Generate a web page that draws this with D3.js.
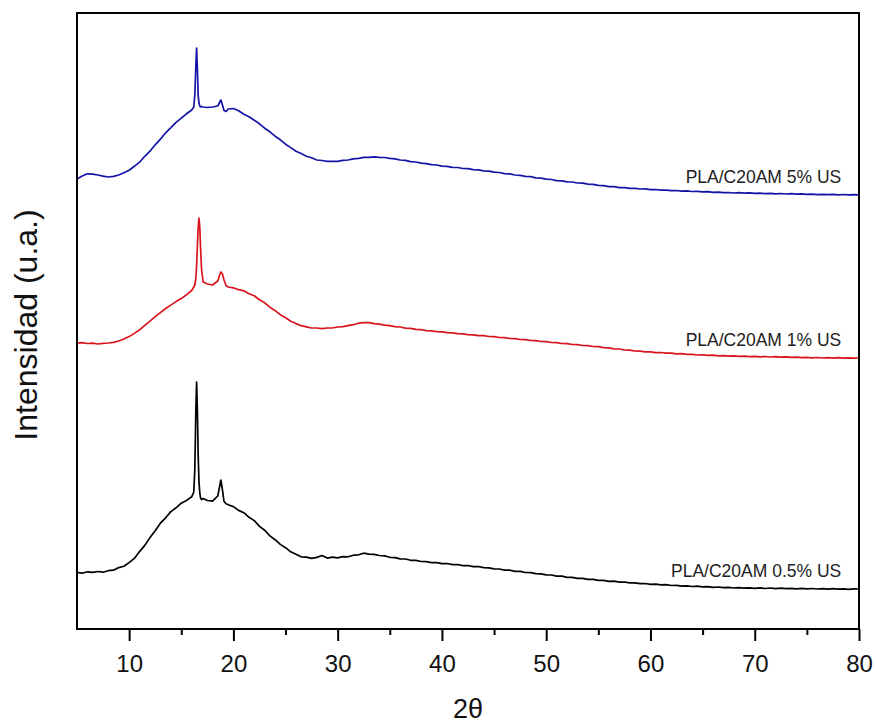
<!DOCTYPE html>
<html>
<head>
<meta charset="utf-8">
<script src="https://cdn.jsdelivr.net/npm/d3@7"></script>
<style>
  html, body { margin: 0; padding: 0; background: #fff; }
  svg { display: block; font-family: "Liberation Sans", Arial, Helvetica, sans-serif; }
</style>
</head>
<body>
<svg id="chart" width="877" height="727"></svg>
<script>
// Scan positions (2θ, degrees) shared by the three diffractograms
const twoTheta = [
  5, 5.5, 6, 6.5, 7, 7.5, 8, 8.5, 9, 9.5,
  10, 10.5, 11, 11.5, 12, 12.5, 13, 13.5, 14, 14.5,
  15, 15.5, 16,
  16.2, 16.3, 16.4, 16.47, 16.55, 16.62, 16.7, 16.78, 16.85, 16.95, 17.1,
  17.5, 18, 18.5,
  18.65, 18.8, 18.95, 19.1, 19.3,
  19.5,
  20, 20.5, 21, 21.5, 22, 22.5, 23, 23.5, 24, 24.5,
  25, 25.5, 26, 26.5, 27, 27.5, 28, 28.5, 29, 29.5,
  30, 30.5, 31, 31.5, 32, 32.5, 33, 33.5, 34, 34.5,
  35, 35.5, 36, 36.5, 37, 37.5, 38, 38.5, 39, 39.5,
  40, 40.5, 41, 41.5, 42, 42.5, 43, 43.5, 44, 44.5,
  45, 45.5, 46, 46.5, 47, 47.5, 48, 48.5, 49, 49.5,
  50, 50.5, 51, 51.5, 52, 52.5, 53, 53.5, 54, 54.5,
  55, 55.5, 56, 56.5, 57, 57.5, 58, 58.5, 59, 59.5,
  60, 60.5, 61, 61.5, 62, 62.5, 63, 63.5, 64, 64.5,
  65, 65.5, 66, 66.5, 67, 67.5, 68, 68.5, 69, 69.5,
  70, 70.5, 71, 71.5, 72, 72.5, 73, 73.5, 74, 74.5,
  75, 75.5, 76, 76.5, 77, 77.5, 78, 78.5, 79, 79.5,
  80
];

// Intensities (counts) for each sample
const pla05 = [
  565, 558, 572, 566, 575, 568, 583, 588, 614, 627,
  664, 706, 774, 836, 914, 982, 1058, 1112, 1174, 1212,
  1258, 1286, 1322,
  1370, 1600, 2190, 2470, 2170, 1740, 1470, 1360, 1310, 1295, 1305,
  1285, 1278, 1330,
  1410, 1490, 1390, 1275, 1252,
  1243,
  1224, 1186, 1163, 1117, 1084, 1026, 988, 931, 893, 846,
  813, 772, 748, 722, 718, 706, 716, 735, 709, 718,
  712, 724, 722, 738, 742, 758, 749, 747, 735, 731,
  717, 714, 702, 700, 687, 686, 675, 674, 664, 664,
  654, 655, 644, 645, 634, 635, 624, 625, 613, 612,
  601, 600, 589, 588, 577, 576, 565, 564, 553, 552,
  541, 540, 529, 528, 517, 517, 507, 507, 497, 497,
  487, 487, 477, 478, 469, 470, 461, 462, 453, 455,
  447, 449, 441, 443, 435, 437, 429, 432, 425, 428,
  421, 424, 417, 420, 413, 416, 410, 414, 408, 412,
  407, 411, 405, 410, 404, 408, 403, 407, 402, 406,
  401, 405, 400, 404, 399, 403, 398, 402, 397, 401,
  400
];

const pla1 = [
  560, 563, 555, 558, 550, 556, 560, 566, 580, 600,
  624, 656, 691, 737, 779, 824, 864, 905, 939, 974,
  1004, 1042, 1085,
  1120, 1140, 1210, 1340, 1540, 1710, 1810, 1710, 1510, 1290, 1170,
  1150, 1140, 1180,
  1230, 1270, 1250, 1190, 1135,
  1120,
  1112, 1093, 1082, 1053, 1032, 993, 962, 918, 884, 843,
  812, 778, 754, 733, 722, 710, 710, 703, 710, 710,
  720, 723, 734, 743, 758, 763, 764, 753, 748, 738,
  734, 723, 720, 709, 707, 696, 694, 684, 682, 673,
  672, 663, 662, 653, 652, 643, 642, 634, 634, 625,
  624, 615, 614, 605, 604, 595, 594, 585, 584, 575,
  574, 565, 564, 555, 554, 545, 544, 535, 534, 525,
  524, 514, 512, 502, 500, 490, 489, 480, 479, 471,
  471, 464, 465, 458, 459, 452, 453, 446, 447, 440,
  442, 436, 438, 432, 434, 428, 431, 426, 429, 424,
  427, 422, 425, 420, 423, 418, 421, 416, 419, 414,
  417, 412, 415, 410, 414, 409, 413, 408, 412, 408,
  410
];

const pla5 = [
  550, 580, 602, 598, 590, 578, 570, 576, 590, 612,
  638, 677, 718, 777, 828, 892, 948, 1012, 1063, 1117,
  1158, 1202, 1240,
  1270, 1390, 1690, 1860, 1640, 1390, 1310, 1280, 1270, 1275, 1270,
  1265, 1270, 1280,
  1310, 1340, 1290, 1235, 1225,
  1250,
  1255, 1232, 1198, 1172, 1138, 1102, 1058, 1022, 978, 942,
  898, 864, 828, 804, 778, 762, 740, 735, 726, 726,
  726, 737, 740, 752, 756, 767, 766, 772, 766, 765,
  756, 752, 740, 736, 724, 720, 708, 704, 693, 690,
  679, 677, 667, 665, 655, 653, 643, 641, 631, 629,
  618, 615, 604, 601, 590, 587, 576, 573, 562, 559,
  548, 545, 534, 532, 522, 520, 510, 508, 498, 496,
  486, 484, 474, 473, 464, 464, 456, 457, 450, 451,
  444, 445, 438, 439, 433, 435, 429, 431, 425, 427,
  421, 423, 417, 419, 413, 415, 410, 413, 408, 411,
  406, 409, 404, 407, 402, 405, 400, 403, 398, 401,
  396, 399, 394, 397, 393, 396, 392, 395, 391, 394,
  392
];

const sampleNames = ["PLA/C20AM 0.5% US", "PLA/C20AM 1% US", "PLA/C20AM 5% US"];
const sampleValues = [pla05, pla1, pla5];
const sampleOffsets = [0, 2300, 3950];          // vertical stacking of the patterns
const sampleColors = ["#000000", "#d8141c", "#1414a8"];

const majorTicks = [10, 20, 30, 40, 50, 60, 70, 80];
const minorTicks = [15, 25, 35, 45, 55, 65, 75];

const width = 877, height = 727;
const margin = { top: 13, right: 18, bottom: 98, left: 77 };
const plotW = width - margin.left - margin.right;
const plotH = height - margin.top - margin.bottom;

const svg = d3.select("#chart");
const g = svg.append("g").attr("transform", `translate(${margin.left},${margin.top})`);

const x = d3.scaleLinear().domain([5, 80]).range([0, plotW]);
const y = d3.scaleLinear().domain([0, 6160]).range([plotH, 0]);

// Diffraction patterns
const line = d3.line()
  .x(d => x(d[0]))
  .y(d => y(d[1]));

sampleValues.forEach((vals, i) => {
  const pts = twoTheta.map((t, k) => [t, vals[k] + sampleOffsets[i]]);
  g.append("path")
    .datum(pts)
    .attr("fill", "none")
    .attr("stroke", sampleColors[i])
    .attr("stroke-width", 1.7)
    .attr("stroke-linejoin", "round")
    .attr("d", line);

  // Sample name above the tail of each pattern
  const tail = vals[vals.length - 1] + sampleOffsets[i];
  g.append("text")
    .attr("x", x(78.3))
    .attr("y", y(tail) - 12)
    .attr("text-anchor", "end")
    .attr("font-size", 17.5)
    .attr("fill", "#222")
    .text(sampleNames[i]);
});

// Bottom axis: major ticks with labels, minor ticks without
const axisMajor = g.append("g")
  .attr("transform", `translate(0,${plotH})`)
  .call(d3.axisBottom(x).tickValues(majorTicks).tickSize(12).tickFormat(d3.format("d")));
axisMajor.select(".domain").remove();
axisMajor.selectAll(".tick line").attr("stroke", "#000").attr("stroke-width", 2);
axisMajor.selectAll(".tick text")
  .attr("y", 43).attr("dy", 0)
  .attr("font-size", 24)
  .attr("font-family", "Liberation Sans, Arial, sans-serif")
  .attr("fill", "#111");

const axisMinor = g.append("g")
  .attr("transform", `translate(0,${plotH})`)
  .call(d3.axisBottom(x).tickValues(minorTicks).tickSize(6).tickFormat(""));
axisMinor.select(".domain").remove();
axisMinor.selectAll(".tick line").attr("stroke", "#000").attr("stroke-width", 2);

// Frame around the plot area
g.append("rect")
  .attr("x", 0).attr("y", 0)
  .attr("width", plotW).attr("height", plotH)
  .attr("fill", "none")
  .attr("stroke", "#000")
  .attr("stroke-width", 2);

// Axis titles
svg.append("text")
  .attr("x", margin.left + plotW / 2)
  .attr("y", 718)
  .attr("text-anchor", "middle")
  .attr("font-size", 27)
  .attr("fill", "#111")
  .text("2θ");

svg.append("text")
  .attr("transform", `translate(37,${margin.top + 312}) rotate(-90)`)
  .attr("text-anchor", "middle")
  .attr("font-size", 32)
  .attr("fill", "#111")
  .text("Intensidad (u.a.)");
</script>
</body>
</html>
